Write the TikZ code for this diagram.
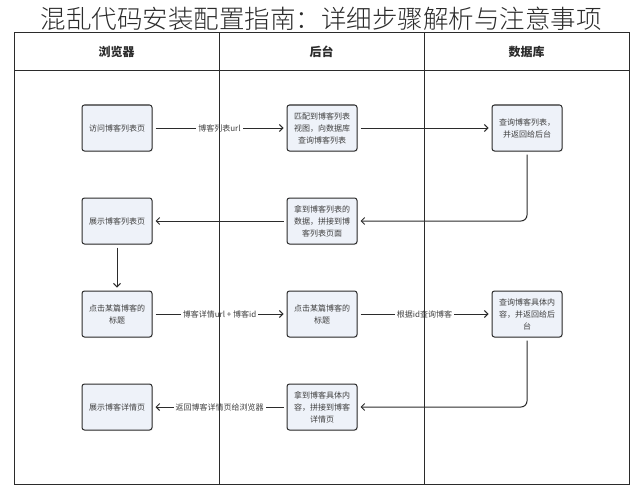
\documentclass[tikz,border=0pt]{standalone}
\usepackage{fontspec}
\setmainfont{Noto Sans CJK SC}
\newfontfamily\titlefont{Noto Sans CJK SC}[UprightFont={* Light}]
\usepackage{tikz}
\usetikzlibrary{arrows.meta}
\usetikzlibrary{shadows}
\definecolor{boxfill}{HTML}{EEF2F9}
\definecolor{ink}{HTML}{2B2B2B}
\definecolor{txt}{HTML}{404040}
\tikzstyle{blk}=[draw=ink, line width=1pt, fill=boxfill, rounded corners=2.5pt,
  minimum width=70pt, minimum height=46pt, align=center, text=txt,
  font=\fontsize{8}{12}\selectfont,
  drop shadow={opacity=0.12, shadow xshift=1pt, shadow yshift=-1pt}]
\tikzstyle{lbl}=[fill=white, inner sep=2pt, text=txt, font=\fontsize{8}{9}\selectfont]
\tikzstyle{hdr}=[font=\fontsize{12}{14}\selectfont\bfseries, text=ink]
\tikzstyle{lane}=[draw=ink, line width=1pt]

\begin{document}
\begin{tikzpicture}[x=1pt,y=-1pt,node distance=205pt,>={Straight Barb[length=3.5pt,width=7pt]}]
\useasboundingbox (0,0) rectangle (644,500);
% title
\node (title) at (321,19) {\titlefont\fontsize{25.5}{28}\selectfont\color{ink}混乱代码安装配置指南：详细步骤解析与注意事项};
\node [hdr] (h1) at (116.5,52) {浏览器};
\node [hdr] (h2) [right of=h1] {后台};
\node [hdr] (h3) [right of=h2] {数据库};
% row 1
\node [blk] (b1) at (117,128) {访问博客列表页};
\node [blk] (s1) [right of=b1] {匹配到博客列表\\视图，向数据库\\查询博客列表};
\node [blk] (d1) [right of=s1] {查询博客列表，\\并返回给后台};
% row 2
\node [blk] (b2) [below of=b1, node distance=93pt] {展示博客列表页};
\node [blk] (s2) [right of=b2] {拿到博客列表的\\数据，拼接到博\\客列表页面};
% row 3
\node [blk] (b3) [below of=b2, node distance=93pt] {点击某篇博客的\\标题};
\node [blk] (s3) [right of=b3] {点击某篇博客的\\标题};
\node [blk] (d3) [right of=s3] {查询博客具体内\\容，并返回给后\\台};
% row 4
\node [blk] (b4) [below of=b3, node distance=93pt] {展示博客详情页};
\node [blk] (s4) [right of=b4] {拿到博客具体内\\容，拼接到博客\\详情页};

\begin{scope}[ink, line width=1pt, shorten >=3pt, shorten <=3pt]
\path[->] (b1) edge node [lbl] {博客列表url} (s1);
\path[->] (s1) edge (d1);
\draw[->, rounded corners=6pt] (d1) |- (s2);
\path[->] (s2) edge (b2);
\path[->] (b2) edge (b3);
\path[->] (b3) edge node [lbl] {博客详情url + 博客id} (s3);
\path[->] (s3) edge node [lbl] {根据id查询博客} (d3);
\draw[->, rounded corners=6pt] (d3) |- (s4);
\path[->] (s4) edge node [lbl] {返回博客详情页给浏览器} (b4);
\end{scope}
% lanes
\draw[lane] (14,33) rectangle (629,484);
\draw[lane] (14,71) -- (629,71);
\draw[lane] (219,33) -- (219,484);
\draw[lane] (424,33) -- (424,484);
\end{tikzpicture}
\end{document}
